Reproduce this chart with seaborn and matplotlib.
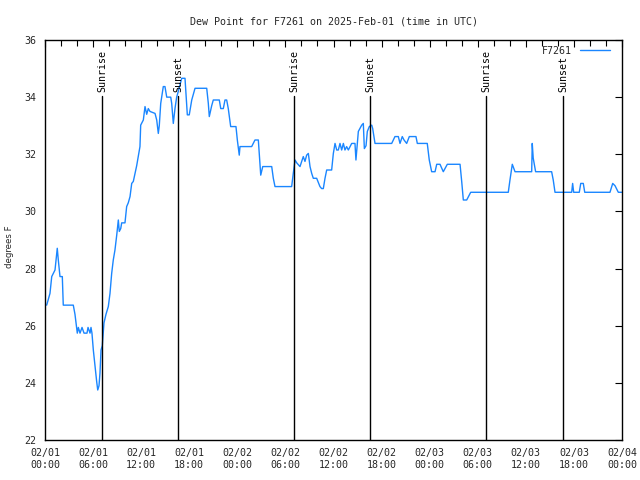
import numpy as np
import pandas as pd
import matplotlib
matplotlib.use("Agg")
import matplotlib.pyplot as plt
import matplotlib.dates as mdates
import seaborn as sns

# hours since 2025-02-01 00:00 UTC
hours = [0.21, 0.62, 0.84, 1.25, 1.53, 1.66, 1.87, 2.16, 2.28, 3.53, 3.74, 4.03, 4.16, 4.37, 4.62, 4.87,
         5.24, 5.37, 5.62, 5.74, 5.86, 6.03, 6.24, 6.45, 6.58, 6.74, 6.86, 6.99, 7.15, 7.36, 7.61, 7.90,
         8.11, 8.32, 8.52, 8.73, 8.95, 9.15, 9.27, 9.45, 9.57, 9.98, 10.19, 10.39, 10.61, 10.82, 11.02,
         11.23, 11.44, 11.64, 11.85, 11.94, 12.27, 12.48, 12.69, 12.89, 13.10, 13.73, 13.94, 14.14, 14.26,
         14.44, 14.76, 14.97, 15.19, 15.69, 15.81, 16.01, 16.22, 16.43, 16.63, 17.06, 17.47, 17.76, 18.00,
         18.31, 18.72, 20.18, 20.38, 20.50, 20.80, 21.00, 21.75, 21.93, 22.25, 22.46, 22.67, 22.87, 23.17,
         23.83, 24.00, 24.24, 24.33, 25.79, 26.20, 26.62, 26.74, 26.83, 26.92, 27.17, 28.29, 28.49, 28.70,
         30.78, 30.98, 31.20, 31.41, 31.82, 32.23, 32.44, 32.65, 32.86, 33.07, 33.28, 33.48, 33.90, 34.31,
         34.52, 34.73, 34.94, 35.15, 35.77, 35.98, 36.19, 36.40, 36.60, 36.81, 37.02, 37.23, 37.43, 37.64,
         37.85, 38.27, 38.68, 38.80, 39.10, 39.52, 39.72, 39.85, 40.06, 40.22, 40.47, 40.77, 40.89, 41.18,
         43.26, 43.67, 44.09, 44.30, 44.58, 44.80, 45.13, 45.46, 46.29, 46.46, 47.70, 47.95, 48.25, 48.67,
         48.88, 49.29, 49.70, 50.20, 51.79, 52.00, 52.20, 52.62, 53.12, 57.81, 58.02, 58.31, 58.65, 60.73,
         60.80, 60.92, 61.22, 63.22, 63.42, 63.64, 65.72, 65.84, 65.97, 66.67, 66.85, 67.17, 67.35, 70.50,
         70.84, 71.13, 71.54, 71.96]
dewpoint = [26.72, 27.13, 27.72, 27.95, 28.71, 28.30, 27.72, 27.72, 26.72, 26.72, 26.40, 25.74, 25.94, 25.74,
            25.94, 25.74, 25.74, 25.94, 25.74, 25.94, 25.74, 25.15, 24.60, 24.04, 23.75, 23.90, 24.34, 25.15,
            25.30, 26.10, 26.40, 26.67, 27.13, 27.83, 28.30, 28.65, 29.17, 29.70, 29.30, 29.40, 29.60, 29.60,
            30.17, 30.30, 30.52, 30.98, 31.05, 31.33, 31.60, 31.92, 32.27, 33.02, 33.20, 33.67, 33.40, 33.60,
            33.50, 33.43, 33.20, 32.73, 33.00, 33.78, 34.37, 34.37, 34.00, 34.00, 33.78, 33.08, 33.60, 34.00,
            34.20, 34.66, 34.66, 33.38, 33.38, 33.90, 34.31, 34.31, 33.78, 33.32, 33.70, 33.90, 33.90, 33.60,
            33.60, 33.90, 33.90, 33.60, 32.97, 32.97, 32.50, 31.97, 32.27, 32.27, 32.50, 32.50, 32.00, 31.57,
            31.27, 31.57, 31.57, 31.16, 30.87, 30.87, 31.33, 31.80, 31.70, 31.57, 31.92, 31.75, 31.97, 32.03,
            31.57, 31.33, 31.16, 31.16, 30.87, 30.80, 30.80, 31.16, 31.45, 31.45, 32.03, 32.38, 32.15, 32.15,
            32.38, 32.15, 32.38, 32.15, 32.27, 32.15, 32.38, 32.38, 31.80, 32.80, 33.02, 33.08, 32.20, 32.30,
            32.80, 32.97, 33.02, 32.90, 32.38, 32.38, 32.62, 32.62, 32.38, 32.62, 32.50, 32.38, 32.62, 32.62,
            32.38, 32.38, 31.80, 31.39, 31.39, 31.65, 31.65, 31.39, 31.65, 31.65, 31.04, 30.40, 30.40, 30.67,
            30.67, 31.10, 31.65, 31.39, 31.39, 32.38, 31.87, 31.39, 31.39, 31.10, 30.67, 30.67, 30.98, 30.67,
            30.67, 30.98, 30.98, 30.67, 30.67, 30.98, 30.90, 30.67, 30.67]

event_labels = ["Sunrise", "Sunset", "Sunrise", "Sunset", "Sunrise", "Sunset"]
event_times = ["2025-02-01 07:07", "2025-02-01 16:36", "2025-02-02 07:06",
               "2025-02-02 16:37", "2025-02-03 07:05", "2025-02-03 16:38"]

station = "F7261"
title = "Dew Point for F7261 on 2025-Feb-01 (time in UTC)"
ylabel = "degrees F"

start = pd.Timestamp("2025-02-01 00:00")
df = pd.DataFrame({"time": start + pd.to_timedelta(hours, unit="h"), "dew": dewpoint, "station": station})

sns.set_style("white")
plt.rcParams["font.family"] = ["DejaVu Sans Mono", "DejaVu Sans"]
fs = 7.2

fig = plt.figure(figsize=(6.4, 4.8), dpi=100)
ax = fig.add_axes([45 / 640, 1 - 440 / 480, 577 / 640, 400 / 480])

sns.lineplot(data=df, x="time", y="dew", hue="station", palette=["#1a86ff"],
             linewidth=1.0, ax=ax, estimator=None, sort=False)

ax.set_xlim(start, start + pd.Timedelta(hours=72))
ax.set_ylim(22, 36)
ax.set_yticks(np.arange(22, 37, 2))

for lab, t in zip(event_labels, event_times):
    tt = pd.Timestamp(t)
    ax.plot([tt, tt], [22, 34.05], color="black", lw=1.0)
    ax.text(tt, 34.18, lab, rotation=90, ha="center", va="bottom", fontsize=fs, color="black")

ax.xaxis.set_major_locator(mdates.HourLocator(byhour=[0, 6, 12, 18]))
ax.xaxis.set_minor_locator(mdates.HourLocator(byhour=range(0, 24, 2)))
ax.xaxis.set_major_formatter(mdates.DateFormatter("%m/%d\n%H:%M"))
ax.tick_params(axis="both", which="both", direction="in", top=True, right=True,
               labelsize=fs, color="black", width=0.8)
ax.tick_params(axis="both", which="major", length=5, pad=6)
ax.tick_params(axis="x", which="minor", length=4)
for sp in ax.spines.values():
    sp.set_color("black")
    sp.set_linewidth(1.0)

ax.set_xlabel("")
ax.set_ylabel(ylabel, fontsize=6.2, family="DejaVu Sans")
ax.yaxis.label.set_va("center")
ax.yaxis.set_label_coords(-35 / 577, (440 - 247) / 400)
ax.set_title(title, fontsize=fs, pad=11.5)

leg = ax.legend(loc="upper right", bbox_to_anchor=(1 - 6 / 577, 1.0), frameon=False, fontsize=fs,
                handlelength=3.0, markerfirst=False, borderaxespad=0.2, handletextpad=0.8)

fig.savefig("out.png", dpi=100)
